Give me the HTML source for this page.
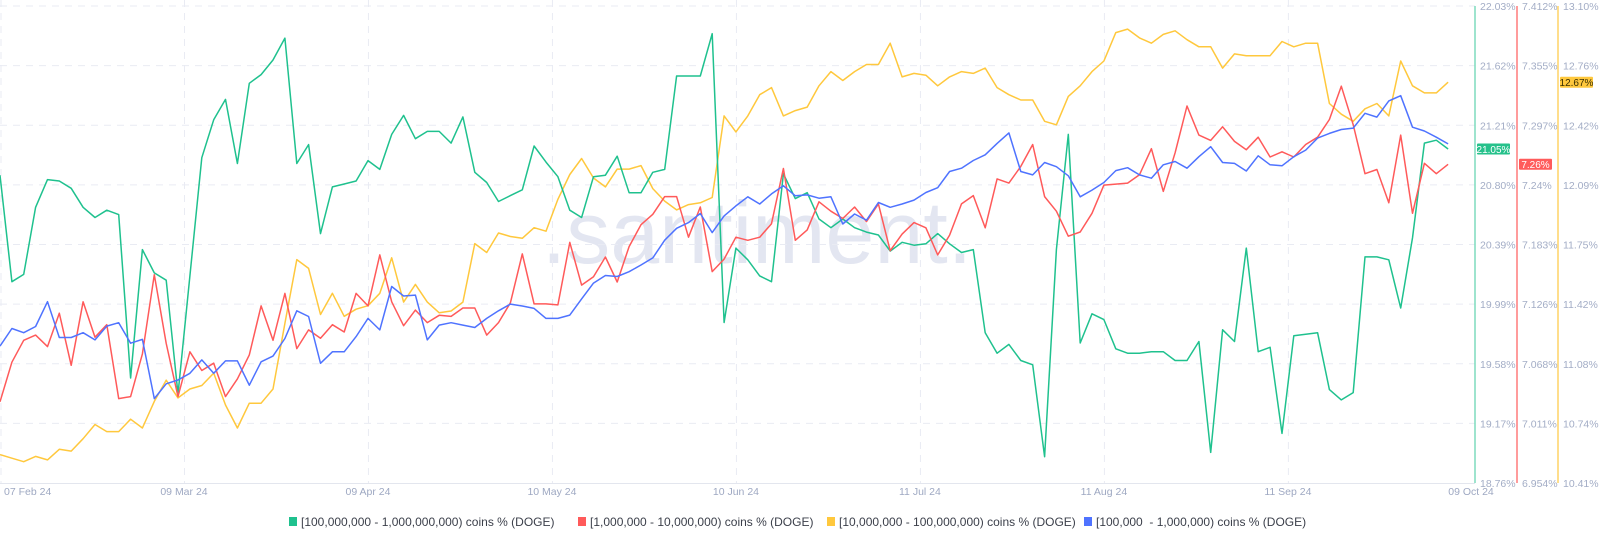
<!DOCTYPE html>
<html><head><meta charset="utf-8"><style>
html,body{margin:0;padding:0;background:#fff;width:1600px;height:542px;overflow:hidden;font-family:"Liberation Sans",sans-serif}
svg{display:block}
</style></head><body>
<svg id="chart" width="1600" height="542" viewBox="0 0 1600 542" xmlns="http://www.w3.org/2000/svg"></svg>
<script>
const startDate = '2024-02-07';
const stepDays = 2;
const xTickLabels = ['07 Feb 24','09 Mar 24','09 Apr 24','10 May 24','10 Jun 24','11 Jul 24','11 Aug 24','11 Sep 24','09 Oct 24'];
const xTickDays = [0,31,62,93,124,155,186,217,245];
const greenTicks = ['22.03%','21.62%','21.21%','20.80%','20.39%','19.99%','19.58%','19.17%','18.76%'];
const redTicks = ['7.412%','7.355%','7.297%','7.24%','7.183%','7.126%','7.068%','7.011%','6.954%'];
const yellowTicks = ['13.10%','12.76%','12.42%','12.09%','11.75%','11.42%','11.08%','10.74%','10.41%'];
const greenDomain = [18.76, 22.03];
const redDomain = [6.954, 7.412];
const yellowDomain = [10.41, 13.10];
const blueDomain = [0, 100];
const greenValues = [20.87,20.14,20.19,20.65,20.84,20.83,20.78,20.65,20.58,20.63,20.60,19.48,20.36,20.20,20.15,19.37,20.18,20.99,21.25,21.39,20.95,21.50,21.56,21.66,21.81,20.95,21.08,20.47,20.79,20.81,20.83,20.97,
20.91,21.15,21.28,21.12,21.17,21.17,21.09,21.27,20.89,20.82,20.69,20.73,20.77,21.07,20.96,20.86,20.63,20.58,20.86,20.87,21.00,20.75,20.75,20.89,20.91,21.55,21.55,21.55,21.84,19.86,
20.37,20.29,20.18,20.14,20.88,20.71,20.75,20.57,20.51,20.57,20.51,20.48,20.46,20.35,20.41,20.39,20.40,20.47,20.40,20.34,20.36,19.79,19.65,19.71,19.60,19.57,18.94,20.36,21.15,19.72,
19.92,19.88,19.68,19.65,19.65,19.66,19.66,19.60,19.60,19.73,18.97,19.81,19.73,20.37,19.66,19.69,19.10,19.77,19.78,19.79,19.40,19.33,19.38,20.31,20.31,20.29,19.96,20.44,21.09,21.11,21.05];
const redValues = [7.032,7.070,7.091,7.096,7.085,7.117,7.067,7.128,7.094,7.106,7.035,7.037,7.078,7.154,7.088,7.037,7.080,7.062,7.069,7.037,7.054,7.077,7.124,7.091,7.136,7.083,7.101,7.093,7.106,7.099,7.136,7.124,
7.173,7.128,7.105,7.120,7.108,7.115,7.114,7.122,7.122,7.096,7.108,7.127,7.174,7.126,7.126,7.125,7.185,7.144,7.152,7.171,7.147,7.181,7.202,7.212,7.229,7.229,7.190,7.219,7.157,7.169,
7.190,7.187,7.190,7.203,7.256,7.187,7.197,7.224,7.215,7.208,7.219,7.205,7.222,7.177,7.193,7.204,7.199,7.173,7.192,7.222,7.230,7.199,7.246,7.242,7.258,7.279,7.229,7.215,7.191,7.195,
7.213,7.240,7.241,7.242,7.250,7.275,7.234,7.271,7.316,7.288,7.283,7.296,7.282,7.274,7.286,7.267,7.272,7.267,7.279,7.286,7.303,7.335,7.298,7.251,7.255,7.223,7.288,7.213,7.261,7.251,7.260];
const yellowValues = [10.57,10.55,10.53,10.56,10.54,10.60,10.59,10.66,10.74,10.70,10.70,10.77,10.72,10.87,10.99,10.89,10.94,10.96,11.03,10.85,10.72,10.86,10.86,10.94,11.31,11.67,11.62,11.36,11.48,11.35,11.39,11.41,
11.48,11.68,11.43,11.53,11.43,11.37,11.38,11.43,11.76,11.71,11.82,11.80,11.79,11.85,11.83,12.01,12.15,12.24,12.13,12.08,12.18,12.18,12.20,12.07,12.00,11.95,11.98,11.99,12.02,12.48,
12.39,12.48,12.60,12.64,12.48,12.51,12.53,12.65,12.73,12.68,12.73,12.77,12.77,12.89,12.70,12.72,12.71,12.65,12.70,12.73,12.72,12.75,12.64,12.60,12.57,12.57,12.45,12.43,12.59,12.65,
12.73,12.79,12.95,12.97,12.92,12.89,12.94,12.96,12.91,12.87,12.87,12.75,12.83,12.82,12.82,12.82,12.90,12.87,12.89,12.89,12.55,12.49,12.45,12.52,12.55,12.48,12.79,12.65,12.61,12.61,12.67];
const blueValues = [28.7,32.4,31.5,32.8,38.0,30.5,30.5,31.5,30.0,32.9,33.6,29.3,30.1,17.7,20.8,21.6,23.0,25.8,23.0,25.6,25.6,20.5,25.4,26.6,30.3,36.1,34.9,25.1,27.5,27.5,30.7,34.5,
32.1,41.2,39.2,39.4,30.0,33.1,33.6,33.1,32.6,34.5,36.1,37.5,37.1,36.6,34.5,34.5,35.2,38.6,41.9,43.5,43.3,44.3,45.7,47.2,50.9,53.4,54.6,56.5,52.5,56.0,
58.1,60.0,58.5,60.6,62.3,60.2,60.4,59.7,60.0,54.3,56.4,55.1,58.8,57.8,58.5,59.3,60.9,61.9,65.3,66.0,67.6,68.8,71.2,73.4,65.3,64.6,67.2,66.3,64.4,60.0,
61.4,63.0,65.5,66.1,64.6,63.9,66.7,67.4,66.0,68.4,70.5,67.2,67.0,65.4,68.6,66.7,66.5,68.4,69.8,72.3,73.3,74.1,74.4,77.5,76.7,80.1,81.2,74.6,73.8,72.5,71.1];
const legendLabels = ['[100,000,000 - 1,000,000,000) coins % (DOGE)','[1,000,000 - 10,000,000) coins % (DOGE)','[10,000,000 - 100,000,000) coins % (DOGE)','[100,000  - 1,000,000) coins % (DOGE)'];

const NS = 'http://www.w3.org/2000/svg';
const svg = document.getElementById('chart');
const PX_PER_DAY = 5.935, TOP = 6, BOTTOM = 483, RIGHT = 1475;
function xScale(day){ return day * PX_PER_DAY; }
function yScale(v, dom){ return TOP + (dom[1] - v) / (dom[1] - dom[0]) * (BOTTOM - TOP); }
function mk(tag, attrs, parent){ const e = document.createElementNS(NS, tag); for (const k in attrs) e.setAttribute(k, attrs[k]); (parent||svg).appendChild(e); return e; }

const wm = mk('text', {x: 757, y: 263, 'text-anchor':'middle', 'font-size': 88, fill:'#e3e6f1', 'font-family':'Liberation Sans, sans-serif'});


wm.textContent = '.santiment.';

const grid = mk('g', {});


for (let i = 0; i < greenTicks.length - 1; i++) {
  const y = TOP + i * (BOTTOM - TOP) / 8;
  const l = mk('line', {x1: 0, x2: RIGHT, y1: y, y2: y, stroke: '#e9ebf3', 'stroke-width': 1, 'stroke-dasharray': '7 6'}, grid);
  
  
}
for (let i = 0; i < xTickDays.length - 1; i++) {
  const x = Math.max(1, xScale(xTickDays[i]) + 0.5);
  const l = mk('line', {x1: x, x2: x, y1: 0, y2: BOTTOM, stroke: '#e9ebf3', 'stroke-width': 1, 'stroke-dasharray': '7 6'}, grid);
  
  
}
const axisLine = mk('line', {x1: 0, x2: RIGHT, y1: BOTTOM + 0.5, y2: BOTTOM + 0.5, stroke: '#e3e6ee', 'stroke-width': 1});



for (let i = 0; i < xTickLabels.length; i++) {
  let x = xScale(xTickDays[i]), anchor = 'middle';
  if (i === 0) { x = 4; anchor = 'start'; }
  if (i === xTickLabels.length - 1) { x = 1471; }
  const t = mk('text', {x: x, y: 495, 'text-anchor': anchor, 'font-size': 10.5, fill: '#9ea8c2'});
  
  
  t.textContent = xTickLabels[i];
}

function drawSeries(vals, dom, color, name){
  let d = '';
  vals.forEach((v, i) => { d += (i ? 'L' : 'M') + xScale(i * stepDays).toFixed(1) + ' ' + yScale(v, dom).toFixed(1); });
  const p = mk('path', {d: d, fill: 'none', stroke: color, 'stroke-width': 1.5, 'stroke-linejoin': 'round'});
  
  
}
drawSeries(yellowValues, yellowDomain, '#ffc83d', 'series-10m-100m');
drawSeries(greenValues, greenDomain, '#1fc18e', 'series-100m-1b');
drawSeries(redValues, redDomain, '#ff5a5a', 'series-1m-10m');
drawSeries(blueValues, blueDomain, '#4f73ff', 'series-100k-1m');

function drawAxis(x, color, ticks, name){
  const g = mk('g', {});
  
  
  mk('line', {x1: x, x2: x, y1: TOP, y2: BOTTOM, stroke: color, 'stroke-width': 1.5}, g);
  ticks.forEach((lab, i) => {
    const t = mk('text', {x: x + 5, y: TOP + i * (BOTTOM - TOP) / 8 + 4, 'font-size': 10.5, fill: '#a3adc6'}, g);
    
    
    t.textContent = lab;
  });
}
drawAxis(1475, '#7fdcbd', greenTicks, 'green-y-axis');
drawAxis(1517, '#ff7b7b', redTicks, 'red-y-axis');
drawAxis(1558, '#ffd466', yellowTicks, 'yellow-y-axis');

function badge(x, v, dom, bg, fg, name){
  const y = yScale(v, dom);
  const g = mk('g', {});
  
  
  mk('rect', {x: x, y: y - 5.5, width: 33, height: 11, fill: bg, rx: 1}, g);
  const t = mk('text', {x: x + 16.5, y: y + 3.8, 'text-anchor': 'middle', 'font-size': 10, fill: fg}, g);
  t.textContent = v.toFixed(2) + '%';
}
badge(1477, greenValues[greenValues.length - 1], greenDomain, '#26c18b', '#ffffff', 'green-last-value-badge');
badge(1519, redValues[redValues.length - 1], redDomain, '#ff5b5b', '#ffffff', 'red-last-value-badge');
badge(1560, yellowValues[yellowValues.length - 1], yellowDomain, '#ffc83d', '#3a2f00', 'yellow-last-value-badge');

const legendColors = ['#1fc18e', '#ff5a5a', '#ffc83d', '#4f73ff'];
const legendX = [289, 578, 827, 1084];
legendLabels.forEach((lab, i) => {
  const g = mk('g', {});
  
  
  mk('rect', {x: legendX[i], y: 517, width: 8, height: 9, fill: legendColors[i]}, g);
  const t = mk('text', {x: legendX[i] + 12, y: 526, 'font-size': 12, fill: '#3b3f4a'}, g);
  t.setAttribute('xml:space', 'preserve');
  t.style.whiteSpace = 'pre';
  t.textContent = lab;
});
</script>
</body></html>
